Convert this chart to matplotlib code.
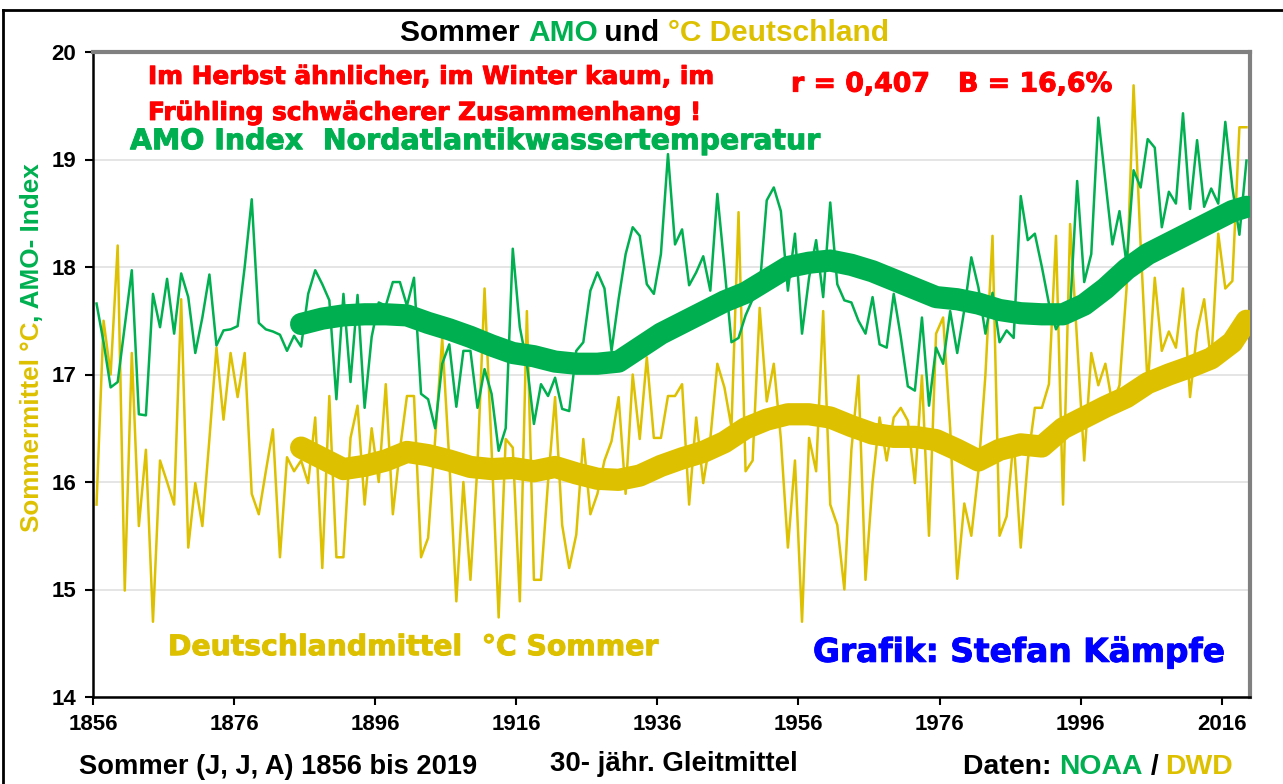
import numpy as np
import matplotlib.pyplot as plt
import matplotlib.patheffects as pe
from matplotlib.lines import Line2D

W, H = 1283, 784

# summer values 1856-2019
amo = [17.66, 17.3, 16.88, 16.93, 17.45, 17.97, 16.63, 16.62, 17.75, 17.44,
       17.89, 17.38, 17.94, 17.72, 17.2, 17.53, 17.93, 17.27, 17.41, 17.42,
       17.45, 18.0, 18.63, 17.48, 17.42, 17.4, 17.37, 17.22, 17.36, 17.26,
       17.75, 17.97, 17.84, 17.69, 16.77, 17.75, 16.93, 17.74, 16.69, 17.35,
       17.67, 17.64, 17.86, 17.86, 17.64, 17.9, 16.82, 16.77, 16.5, 17.1,
       17.28, 16.7, 17.22, 17.22, 16.69, 17.05, 16.82, 16.29, 16.5, 18.17,
       17.44, 17.1, 16.54, 16.91, 16.8, 16.97, 16.68, 16.66, 17.22, 17.3,
       17.78, 17.95, 17.8, 17.22, 17.7, 18.12, 18.37, 18.29, 17.84, 17.75,
       18.12, 19.05, 18.21, 18.35, 17.83, 17.95, 18.1, 17.78, 18.68, 18.0,
       17.3, 17.34, 17.55, 17.7, 17.81, 18.62, 18.74, 18.52, 17.78, 18.31,
       17.38, 17.9, 18.25, 17.72, 18.6, 17.84, 17.69, 17.67, 17.5, 17.38,
       17.72, 17.28, 17.25, 17.75, 17.35, 16.89, 16.85, 17.53, 16.71, 17.25,
       17.1, 17.59, 17.2, 17.6, 18.09, 17.81, 17.38, 17.76, 17.3, 17.41,
       17.34, 18.66, 18.25, 18.31, 18.0, 17.66, 17.42, 17.55, 17.6, 18.8,
       17.86, 18.12, 19.39, 18.8, 18.21, 18.52, 18.03, 18.9, 18.74, 19.19,
       19.11, 18.37, 18.7, 18.59, 19.43, 18.54, 19.18, 18.56, 18.73, 18.59,
       19.35, 18.74, 18.3, 18.99]

temp = [15.79, 17.5, 17.0, 18.2, 14.99, 17.2, 15.59, 16.3, 14.7, 16.2,
        16.0, 15.79, 17.7, 15.39, 15.99, 15.59, 16.4, 17.25, 16.58, 17.2,
        16.79, 17.2, 15.89, 15.7, 16.1, 16.49, 15.3, 16.23, 16.1, 16.2,
        15.99, 16.6, 15.2, 16.8, 15.3, 15.3, 16.41, 16.71, 15.79, 16.5,
        16.0, 16.91, 15.7, 16.3, 16.8, 16.8, 15.3, 15.48, 16.4, 17.34,
        16.2, 14.89, 16.0, 15.09, 16.16, 17.8, 16.3, 14.74, 16.4, 16.32,
        14.89, 17.59, 15.09, 15.09, 16.0, 16.79, 15.6, 15.2, 15.51, 16.4,
        15.7, 15.89, 16.2, 16.38, 16.79, 15.89, 17.0, 16.4, 17.16, 16.41,
        16.41, 16.8, 16.8, 16.91, 15.79, 16.6, 15.99, 16.4, 17.1, 16.88,
        16.51, 18.51, 16.1, 16.2, 17.62, 16.75, 17.1, 16.4, 15.39, 16.2,
        14.7, 16.41, 16.1, 17.59, 15.79, 15.6, 15.0, 16.3, 16.99, 15.09,
        16.0, 16.6, 16.2, 16.6, 16.69, 16.57, 15.99, 16.99, 15.5, 17.38,
        17.53, 16.5, 15.1, 15.8, 15.5, 16.1, 17.0, 18.29, 15.5, 15.68,
        16.4, 15.39, 16.2, 16.69, 16.69, 16.91, 18.29, 15.79, 18.4, 17.3,
        16.2, 17.2, 16.9, 17.1, 16.72, 16.9, 17.8, 19.69, 18.2, 16.88,
        17.9, 17.22, 17.4, 17.25, 17.8, 16.79, 17.4, 17.7, 17.1, 18.31,
        17.8, 17.87, 19.3, 19.3]

years = np.arange(1856, 1856 + len(temp))

# 30-year running means
ma_years = [1885, 1888, 1891, 1894, 1897, 1900, 1903, 1906, 1909, 1912,
            1915, 1918, 1921, 1924, 1927, 1930, 1933, 1936, 1939, 1942,
            1945, 1948, 1951, 1954, 1957, 1960, 1963, 1966, 1969, 1972,
            1975, 1978, 1981, 1984, 1987, 1990, 1993, 1996, 1999, 2002,
            2005, 2008, 2011, 2014, 2017, 2019]
amo_ma = [17.47, 17.52, 17.55, 17.56, 17.56, 17.55, 17.48, 17.42, 17.35, 17.27,
          17.2, 17.17, 17.12, 17.1, 17.1, 17.12, 17.25, 17.38, 17.48, 17.58,
          17.68, 17.76, 17.88, 18.0, 18.04, 18.06, 18.02, 17.96, 17.88, 17.8,
          17.72, 17.7, 17.66, 17.6, 17.57, 17.56, 17.56, 17.65, 17.8, 17.98,
          18.12, 18.22, 18.32, 18.42, 18.52, 18.56]
temp_ma = [16.32, 16.22, 16.12, 16.15, 16.2, 16.28, 16.25, 16.2, 16.14, 16.12,
           16.13, 16.1, 16.14, 16.08, 16.03, 16.02, 16.06, 16.15, 16.22, 16.28,
           16.37, 16.5, 16.58, 16.63, 16.63, 16.6, 16.52, 16.45, 16.42, 16.42,
           16.39, 16.3, 16.2, 16.3, 16.35, 16.33, 16.5, 16.6, 16.7, 16.79,
           16.92, 17.0, 17.07, 17.15, 17.3, 17.5]

x_labels = list(range(1856, 2017, 20))
y_ticks = list(range(14, 21))

GREEN = '#00B050'
YELLOW = '#DDC100'

fig = plt.figure(figsize=(W / 100, H / 100), dpi=100)
ax = fig.add_axes([93 / W, 1 - 697 / H, (1250 - 93) / W, (697 - 52) / H])
rend = fig.canvas.get_renderer()

ax.plot(years, temp, color=YELLOW, lw=1.8, zorder=2)
ax.plot(years, amo, color=GREEN, lw=1.8, zorder=2)
ax.plot(ma_years, temp_ma, color=YELLOW, lw=16, solid_capstyle='round',
        solid_joinstyle='round', zorder=3)
ax.plot(ma_years, amo_ma, color=GREEN, lw=16, solid_capstyle='round',
        solid_joinstyle='round', zorder=3)

# category style axis: ticks sit between the yearly points
ax.set_xlim(1855.5, 2019.5)
ax.set_ylim(14, 20)
ax.set_xticks([y - 0.5 for y in x_labels])
ax.set_xticklabels([str(y) for y in x_labels])
ax.set_yticks(y_ticks)
ax.yaxis.grid(True, color='#e3e3e3', lw=1.3)
ax.set_axisbelow(True)

for side in ['left', 'bottom']:
    ax.spines[side].set_color('black')
    ax.spines[side].set_linewidth(1.8)
for side in ['top', 'right']:
    ax.spines[side].set_color('#808080')
    ax.spines[side].set_linewidth(3)

ax.tick_params(direction='out', length=6, width=1.5, pad=6)
for t in ax.get_xticklabels() + ax.get_yticklabels():
    t.set_family('Liberation Sans')
    t.set_fontweight('bold')
    t.set_fontsize(16)


def width_px(s, size, family, weight):
    t = fig.text(0, 0, s, fontsize=size, family=family, weight=weight)
    w = t.get_window_extent(rend).width
    t.remove()
    return w


def put(pieces, a, b, c, family='DejaVu Sans', weight='bold', vertical=False,
        heavy=False):
    # pieces of (text, colour) stretched from a to b, centred on c (pixels)
    whole = ''.join(s for s, _ in pieces)
    size = 10 * abs(b - a) / width_px(whole, 10, family, weight)
    bar = width_px('|', size, family, weight)
    half_cap = 0.36 * size * 100 / 72
    for k, (s, col) in enumerate(pieces):
        head = ''.join(p for p, _ in pieces[:k])
        off = width_px(head + '|', size, family, weight) - bar if head else 0
        fx = [pe.withStroke(linewidth=0.7, foreground=col)] if heavy else None
        if vertical:
            fig.text((c + half_cap) / W, 1 - (a - off) / H, s, color=col,
                     fontsize=size, family=family, weight=weight, rotation=90,
                     rotation_mode='anchor', ha='left', va='baseline',
                     path_effects=fx)
        else:
            fig.text((a + off) / W, 1 - (c + half_cap) / H, s, color=col,
                     fontsize=size, family=family, weight=weight,
                     ha='left', va='baseline', path_effects=fx)


put([('Sommer ', 'black'), ('AMO', GREEN), (' und ', 'black'),
     ('°C Deutschland', YELLOW)], 400, 889, 30, family='Liberation Sans')
put([('Sommermittel °C', YELLOW), (', AMO- Index', GREEN)], 532, 163, 30,
    family='Liberation Sans', vertical=True)

put([('Im Herbst ähnlicher, im Winter kaum, im', 'red')], 148, 713, 75,
    heavy=True)
put([('Frühling schwächerer Zusammenhang !', 'red')], 148, 702, 111,
    heavy=True)
put([('AMO Index  Nordatlantikwassertemperatur', GREEN)], 130, 821, 139,
    heavy=True)
put([('r = 0,407   B = 16,6%', 'red')], 791, 1113, 82, heavy=True)
put([('Deutschlandmittel  °C Sommer', YELLOW)], 168, 658, 645, heavy=True)
put([('Grafik: Stefan Kämpfe', 'blue')], 813, 1225, 650, heavy=True)

put([('Sommer (J, J, A) 1856 bis 2019', 'black')], 79, 477, 764,
    family='Liberation Sans')
put([('30- jähr. Gleitmittel', 'black')], 550, 798, 761,
    family='Liberation Sans')
put([('Daten: ', 'black'), ('NOAA', GREEN), (' / ', 'black'), ('DWD', YELLOW)],
    963, 1233, 764, family='Liberation Sans')

# outer frame of the original graphic
fig.add_artist(Line2D([3 / W, 3 / W], [0, 1 - 10 / H], color='black', lw=2,
                      transform=fig.transFigure))
fig.add_artist(Line2D([3 / W, 1], [1 - 10 / H, 1 - 10 / H], color='black',
                      lw=2, transform=fig.transFigure))

fig.savefig('out.png', dpi=100)
